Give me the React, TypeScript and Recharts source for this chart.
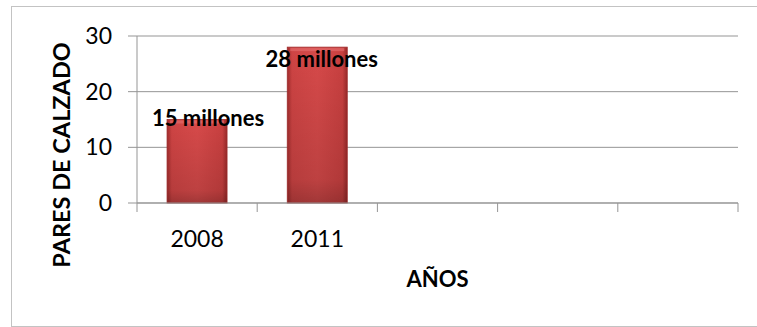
import React from 'react';
import { BarChart, Bar, XAxis, YAxis, CartesianGrid, LabelList, Label } from 'recharts';

const years = ['2008', '2011', '', '', ''];
const pares = [15, 28, null, null, null];
const yTicks = [0, 10, 20, 30];

const data = years.map((year, i) => ({ year, pares: pares[i] }));

const FONT = 'Lato, "Open Sans", sans-serif';
const GRID = '#959595';
const PLOT_W = 601;
const BAND = PLOT_W / years.length;

// excel put the two value labels at slightly different spots
const labelShift = [
  { dx: 11, dy: 6.5 },
  { dx: 4.5, dy: 20 },
];

function XTick(props: any) {
  const { x, y, payload, index } = props;
  const axisY = y - 28;
  const left = x - BAND / 2;
  return (
    <g>
      <line x1={left} y1={axisY} x2={left} y2={axisY + 9} stroke={GRID} />
      {index === years.length - 1 && (
        <line x1={x + BAND / 2} y1={axisY} x2={x + BAND / 2} y2={axisY + 9} stroke={GRID} />
      )}
      {payload.value !== '' && (
        <text x={x} y={y} dy="0.71em" textAnchor="middle" fontFamily={FONT} fontSize={23} fill="#000">
          {payload.value}
        </text>
      )}
    </g>
  );
}

function BevelBar(props: any) {
  const { x, y, width, height } = props;
  if (!height || height <= 0) return null;
  return (
    <g>
      <rect x={x} y={y} width={width} height={height} fill="url(#barSide)" />
      <rect x={x} y={y} width={width} height={height} fill="url(#barDown)" />
      <rect x={x + 3} y={y + 1} width={width - 6} height={3} fill="#e57070" opacity={0.6} />
      <rect x={x} y={y} width={width} height={height} fill="none" stroke="#9e2b2b" strokeWidth={0.8} />
    </g>
  );
}

function ValueLabel(props: any) {
  const { x, y, width, value, index } = props;
  if (value == null) return null;
  const s = labelShift[index] || { dx: 0, dy: 0 };
  return (
    <text
      x={x + width / 2 + s.dx}
      y={y + s.dy}
      textAnchor="middle"
      fontFamily={FONT}
      fontWeight="bold"
      fontSize={22}
      fill="#000"
    >
      {`${value} millones`}
    </text>
  );
}

export default function App() {
  return (
    <div style={{ position: 'absolute', left: 0, top: 0, width: 757, height: 327, overflow: 'hidden', background: '#fff' }}>
      <div
        style={{
          position: 'absolute',
          left: 11,
          top: 6,
          width: 760,
          height: 319,
          border: '1px solid #c3c3c3',
        }}
      />
      <div style={{ position: 'absolute', left: 0, top: 0 }}>
        <BarChart
          width={757}
          height={327}
          data={data}
          margin={{ top: 36, right: 19, bottom: 0, left: 0 }}
          barCategoryGap="25%"
        >
          <defs>
            <linearGradient id="barSide" x1="0" y1="0" x2="1" y2="0">
              <stop offset="0%" stopColor="#a32d2d" />
              <stop offset="8%" stopColor="#cf4444" />
              <stop offset="50%" stopColor="#d74a4a" />
              <stop offset="92%" stopColor="#c94040" />
              <stop offset="100%" stopColor="#9a2a2a" />
            </linearGradient>
            <linearGradient id="barDown" x1="0" y1="0" x2="0" y2="1">
              <stop offset="0%" stopColor="#000" stopOpacity={0} />
              <stop offset="85%" stopColor="#000" stopOpacity={0.12} />
              <stop offset="100%" stopColor="#000" stopOpacity={0.25} />
            </linearGradient>
          </defs>
          <CartesianGrid vertical={false} stroke={GRID} strokeDasharray="" />
          <XAxis
            dataKey="year"
            height={124}
            interval={0}
            axisLine={{ stroke: GRID }}
            tickLine={false}
            tickSize={9}
            tickMargin={19}
            tick={<XTick />}
          >
            <Label
              content={(p: any) => (
                <text
                  x={p.viewBox.x + p.viewBox.width / 2}
                  y={287}
                  textAnchor="middle"
                  fontFamily={FONT}
                  fontWeight="bold"
                  fontSize={22}
                  fill="#000"
                >
                  AÑOS
                </text>
              )}
            />
          </XAxis>
          <YAxis
            width={137}
            domain={[0, 30]}
            ticks={yTicks}
            axisLine={{ stroke: GRID }}
            tickLine={{ stroke: GRID }}
            tickSize={9}
            tickMargin={16}
            tick={{ fontFamily: FONT, fontSize: 23, fill: '#000' }}
          >
            <Label
              content={() => (
                <text
                  x={70}
                  y={155}
                  transform="rotate(-90, 70, 155)"
                  textAnchor="middle"
                  fontFamily={FONT}
                  fontWeight="bold"
                  fontSize={23.5}
                  fill="#000"
                >
                  PARES DE CALZADO
                </text>
              )}
            />
          </YAxis>
          <Bar dataKey="pares" shape={<BevelBar />} isAnimationActive={false}>
            <LabelList dataKey="pares" content={<ValueLabel />} />
          </Bar>
        </BarChart>
      </div>
    </div>
  );
}
